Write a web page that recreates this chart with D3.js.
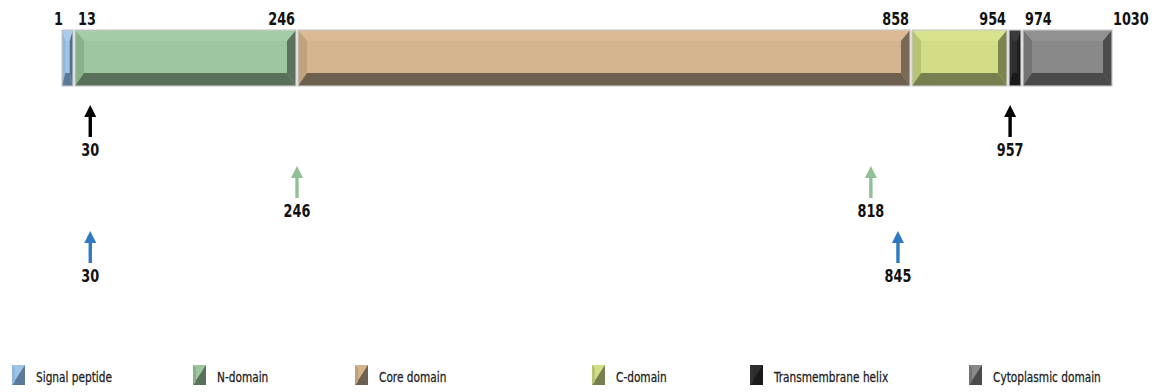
<!DOCTYPE html>
<html>
<head>
<meta charset="utf-8">
<script src="https://cdn.jsdelivr.net/npm/d3@7"></script>
<style>
  body { margin: 0; background: #fff; }
  text { font-family: "DejaVu Sans Condensed", "Liberation Sans Narrow", sans-serif; font-stretch: condensed; }
</style>
</head>
<body>
<script>
// domain boundaries (residue numbers) and names
var boundaries = [1, 13, 246, 858, 954, 974, 1030];
var domainNames = ["Signal peptide", "N-domain", "Core domain", "C-domain", "Transmembrane helix", "Cytoplasmic domain"];

// cleavage / site arrows, one list per colour
var blackSites = [30, 957];
var greenSites = [246, 818];
var blueSites = [30, 845];

var width = 1158, height = 392;

// schematic, not proportional: each domain boundary gets its own stop
var x = d3.scaleLinear()
    .domain(boundaries)
    .range([61, 74, 297, 911, 1008, 1022, 1113]);

// bevel colours: [centre, top, left, right, bottom]
var shades = [
    ["#9fc4e6", "#a9cbec", "#8fb6dc", "#4f6f8f", "#5b7998"],
    ["#9dc79f", "#a4cca6", "#89b28b", "#5d725d", "#59705a"],
    ["#d3b48f", "#dbba95", "#c1a27f", "#7a6955", "#6e604e"],
    ["#d3dd85", "#d9e28c", "#b9c374", "#7d8450", "#787f4e"],
    ["#2e2e2e", "#3a3a3a", "#333333", "#1c1c1c", "#1a1a1a"],
    ["#898989", "#919191", "#737373", "#4c4c4c", "#4a4a4a"]
];

var numSize = 17, numSquash = 0.84;

var svg = d3.select("body")
    .append("svg")
    .attr("width", width)
    .attr("height", height);

var y0 = 30, y1 = 86;

var segments = domainNames.map(function(name, i) {
    return {name: name, start: boundaries[i], end: boundaries[i + 1], shade: shades[i]};
});

var seg = svg.selectAll(".seg")
    .data(segments)
    .enter()
    .append("g")
    .attr("class", "seg");

seg.each(function(d) {
    var g = d3.select(this);
    var a = x(d.start) + 1, b = x(d.end) - 1;
    var w = b - a;
    var L = Math.min(9, w * 0.3), R = Math.min(9, w * 0.3), T = 11, B = 13;
    var poly = function(pts) { return "M" + pts.map(function(p) { return p.join(","); }).join("L") + "Z"; };
    g.append("rect").attr("x", a).attr("y", y0).attr("width", w).attr("height", y1 - y0)
        .attr("fill", d.shade[0]);
    g.append("path").attr("d", poly([[a, y0], [b, y0], [b - R, y0 + T], [a + L, y0 + T]])).attr("fill", d.shade[1]);
    g.append("path").attr("d", poly([[a, y0], [a + L, y0 + T], [a + L, y1 - B], [a, y1]])).attr("fill", d.shade[2]);
    g.append("path").attr("d", poly([[b, y0], [b - R, y0 + T], [b - R, y1 - B], [b, y1]])).attr("fill", d.shade[3]);
    g.append("path").attr("d", poly([[a, y1], [b, y1], [b - R, y1 - B], [a + L, y1 - B]])).attr("fill", d.shade[4]);
    g.append("rect").attr("x", a).attr("y", y0).attr("width", w).attr("height", y1 - y0)
        .attr("fill", "none").attr("stroke", "#c9c9c9").attr("stroke-width", 1.2);
});

// boundary numbers above the bar
var anchorFor = {1: "end", 13: "start", 974: "start", 1030: "start"};
var shiftFor = {1: 2, 13: 4, 974: 3, 1030: 0};
svg.selectAll(".blabel")
    .data(boundaries)
    .enter()
    .append("text")
    .attr("class", "blabel")
    .attr("transform", function(d) {
        var px = x(d) + (shiftFor[d] !== undefined ? shiftFor[d] : -2);
        return "translate(" + px + ",25) scale(" + numSquash + ",1)";
    })
    .attr("text-anchor", function(d) { return anchorFor[d] || "end"; })
    .attr("font-size", numSize)
    .attr("font-weight", "bold")
    .attr("fill", "#111")
    .text(function(d) { return d; });

// arrows
var arrowRows = [
    {sites: blackSites, color: "#000000", tip: 105, label: 156},
    {sites: greenSites, color: "#93bf96", tip: 166, label: 217},
    {sites: blueSites, color: "#2f78c2", tip: 231, label: 282}
];

arrowRows.forEach(function(row) {
    var g = svg.append("g");
    var a = g.selectAll("g")
        .data(row.sites)
        .enter()
        .append("g")
        .attr("transform", function(d) { return "translate(" + x(d) + ",0)"; });
    a.append("line")
        .attr("x1", 0).attr("x2", 0)
        .attr("y1", row.tip + 8).attr("y2", row.tip + 32)
        .attr("stroke", row.color).attr("stroke-width", 3.4);
    a.append("path")
        .attr("d", "M0," + row.tip + "L6," + (row.tip + 12) + "L-6," + (row.tip + 12) + "Z")
        .attr("fill", row.color);
    a.append("text")
        .attr("transform", "translate(0," + row.label + ") scale(" + numSquash + ",1)")
        .attr("text-anchor", "middle")
        .attr("font-size", numSize)
        .attr("font-weight", "bold")
        .attr("fill", "#111")
        .text(function(d) { return d; });
});

// legend
var legendX = [12, 193, 355, 592, 750, 969];
var leg = svg.selectAll(".leg")
    .data(segments)
    .enter()
    .append("g")
    .attr("class", "leg")
    .attr("transform", function(d, i) { return "translate(" + legendX[i] + ",365)"; });

leg.append("rect")
    .attr("width", 13).attr("height", 20)
    .attr("fill", function(d) { return d.shade[0]; });
leg.append("path")
    .attr("d", "M13,0L13,20L0,20Z")
    .attr("fill", function(d) { return d.shade[4]; });
leg.append("path")
    .attr("d", "M0,0L3,3L3,17L0,20Z")
    .attr("fill", function(d) { return d.shade[2]; });

leg.append("text")
    .attr("transform", "translate(24,17) scale(0.84,1)")
    .attr("font-size", 14)
    .attr("fill", "#222")
    .attr("stroke", "#222")
    .attr("stroke-width", 0.25)
    .text(function(d) { return d.name; });
</script>
</body>
</html>
